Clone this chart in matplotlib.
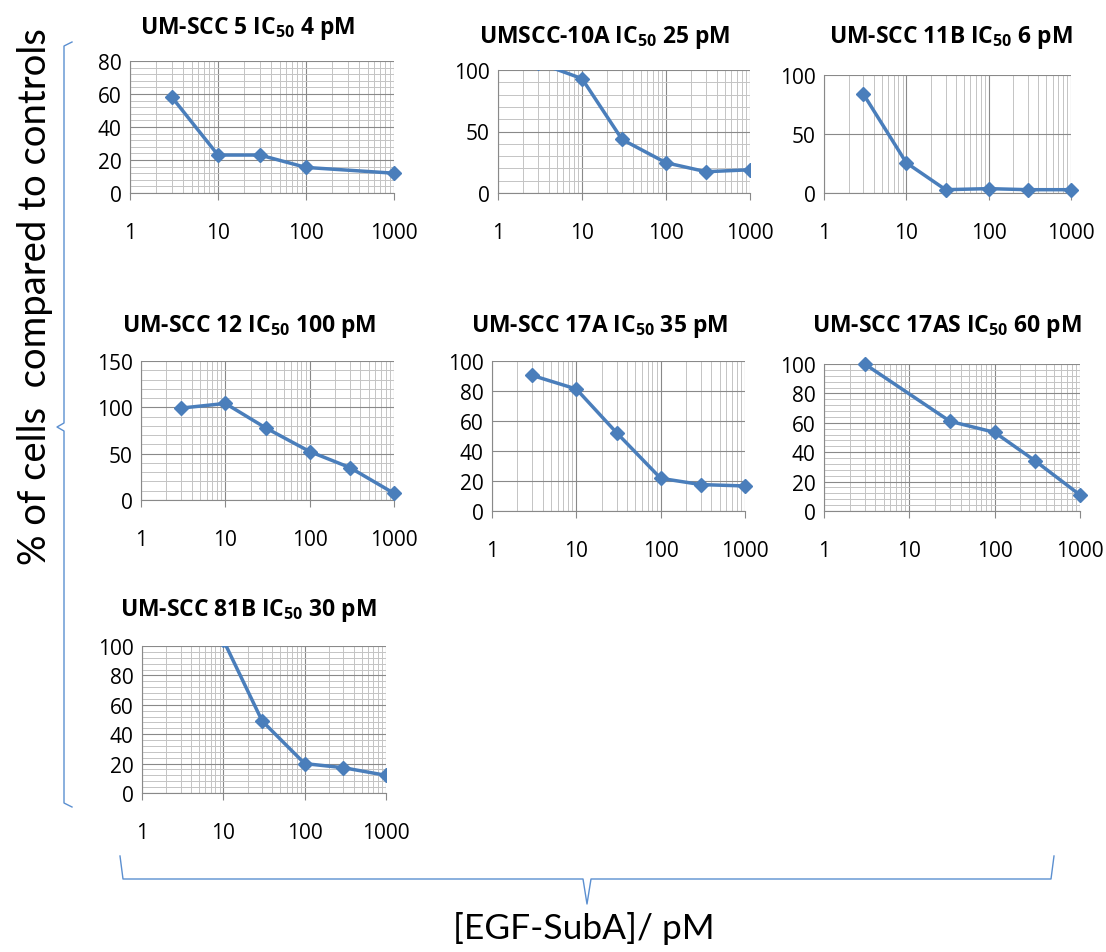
import matplotlib
matplotlib.use("Agg")
import matplotlib.pyplot as plt
from matplotlib.lines import Line2D
from matplotlib.ticker import LogLocator, MultipleLocator, NullFormatter, NullLocator

plt.rcParams["font.family"] = ["Open Sans", "DejaVu Sans"]
plt.rcParams["mathtext.fontset"] = "custom"
plt.rcParams["mathtext.rm"] = "Open Sans"
plt.rcParams["mathtext.bf"] = "Open Sans:bold"

# concentrations (pM) and % of cells compared to controls
scc5_x = [3, 10, 30, 100, 1000]
scc5_y = [58, 23, 23, 15.5, 12]
scc10a_x = [3, 10, 30, 100, 300, 1000]
scc10a_y = [106, 93, 43.5, 24.6, 17.3, 18.9]
scc11b_x = [3, 10, 30, 100, 300, 1000]
scc11b_y = [84, 25.6, 2.8, 3.7, 2.8, 2.8]
scc12_x = [3, 10, 30, 100, 300, 1000]
scc12_y = [99.2, 104.2, 77.9, 52.3, 35, 7.2]
scc17a_x = [3, 10, 30, 100, 300, 1000]
scc17a_y = [90.4, 81.3, 52.2, 21.8, 17.6, 16.7]
scc17as_x = [3, 30, 100, 300, 1000]
scc17as_y = [100, 61, 53.5, 34, 10.9]
scc81b_x = [10, 30, 100, 300, 1000]
scc81b_y = [104, 49, 20, 17.2, 12]

titles = ["UM-SCC 5", "UMSCC-10A", "UM-SCC 11B", "UM-SCC 12",
          "UM-SCC 17A", "UM-SCC 17AS", "UM-SCC 81B"]
ic50 = ["4", "25", "6", "100", "35", "60", "30"]
xticks = [1, 10, 100, 1000]
xticklabels = ["1", "10", "100", "1000"]

W, H = 1106, 953
BLUE = "#4a7ebb"
MAJ = "#898989"
MIN = "#c4c4c4"

# panel geometry in pixels: left, right, top, bottom, title centre x, title y
panels = [
    dict(x=scc5_x, y=scc5_y, box=(130, 394, 62, 194), tpos=(248, 28),
         ymax=80, ymaj=20, ymin=4, clip=False),
    dict(x=scc10a_x, y=scc10a_y, box=(498, 750, 71, 194), tpos=(605, 38),
         ymax=100, ymaj=50, ymin=10, clip=True),
    dict(x=scc11b_x, y=scc11b_y, box=(824, 1071, 76, 194), tpos=(951, 38),
         ymax=100, ymaj=50, ymin=None, clip=False),
    dict(x=scc12_x, y=scc12_y, box=(141, 394, 362, 501), tpos=(249, 326),
         ymax=150, ymaj=50, ymin=10, clip=False),
    dict(x=scc17a_x, y=scc17a_y, box=(492, 745, 362, 512), tpos=(600, 326),
         ymax=100, ymaj=20, ymin=None, clip=False),
    dict(x=scc17as_x, y=scc17as_y, box=(824, 1080, 365, 512), tpos=(947, 326),
         ymax=100, ymaj=20, ymin=4, clip=False),
    dict(x=scc81b_x, y=scc81b_y, box=(142, 386, 647, 794), tpos=(248, 611),
         ymax=100, ymaj=20, ymin=4, clip=True),
]

fig = plt.figure(figsize=(W / 100, H / 100), dpi=100)

for i, p in enumerate(panels):
    l, r, t, b = p["box"]
    ax = fig.add_axes([l / W, 1 - b / H, (r - l) / W, (b - t) / H])
    ax.set_xscale("log")
    ax.set_xlim(1, 1000)
    ax.set_ylim(0, p["ymax"])
    ax.set_xticks(xticks)
    ax.set_xticklabels(xticklabels)
    ax.xaxis.set_minor_locator(LogLocator(base=10, subs=range(2, 10)))
    ax.xaxis.set_minor_formatter(NullFormatter())
    ax.yaxis.set_major_locator(MultipleLocator(p["ymaj"]))
    if p["ymin"]:
        ax.yaxis.set_minor_locator(MultipleLocator(p["ymin"]))
    else:
        ax.yaxis.set_minor_locator(NullLocator())
    ax.grid(which="major", color=MAJ, lw=0.8)
    ax.grid(which="minor", color=MIN, lw=0.7)
    ax.set_axisbelow(True)
    for s in ["top", "right"]:
        ax.spines[s].set_visible(False)
    ax.spines["left"].set_color(MAJ)
    ax.spines["bottom"].set_color(MAJ)
    ax.tick_params(axis="x", which="major", direction="out", length=5,
                   color=MAJ, pad=16, labelsize=15)
    ax.tick_params(axis="x", which="minor", length=0)
    ax.tick_params(axis="y", which="both", length=0, pad=6, labelsize=15)
    ax.plot(p["x"], p["y"], color=BLUE, lw=2.5, marker="D", ms=7.5,
            clip_on=p["clip"], zorder=3)
    fig.text(p["tpos"][0] / W, 1 - p["tpos"][1] / H,
             titles[i] + r" IC$_{\mathbf{50}}$ " + ic50[i] + " pM",
             ha="center", va="center", fontsize=16.5, fontweight="bold")

# curly braces grouping the panels
BR = "#5b8fd0"
lx = [72, 64, 64, 57, 64, 64, 72]
ly = [43, 47, 424, 428, 432, 804, 808]
fig.add_artist(Line2D([x / W for x in lx], [1 - y / H for y in ly],
                      color=BR, lw=1))
bx = [120, 123, 583, 587, 591, 1051, 1054]
by = [857, 880, 880, 905, 880, 880, 857]
fig.add_artist(Line2D([x / W for x in bx], [1 - y / H for y in by],
                      color=BR, lw=1))

fig.text(35 / W, 1 - 297 / H, "% of cells  compared to controls",
         rotation=90, ha="center", va="center", fontsize=27.5,
         family=["Lato", "DejaVu Sans"])
fig.text(584 / W, 1 - 929 / H, "[EGF-SubA]/ pM",
         ha="center", va="center", fontsize=25.5,
         family=["Lato", "DejaVu Sans"])

fig.savefig("out.png", dpi=100)
